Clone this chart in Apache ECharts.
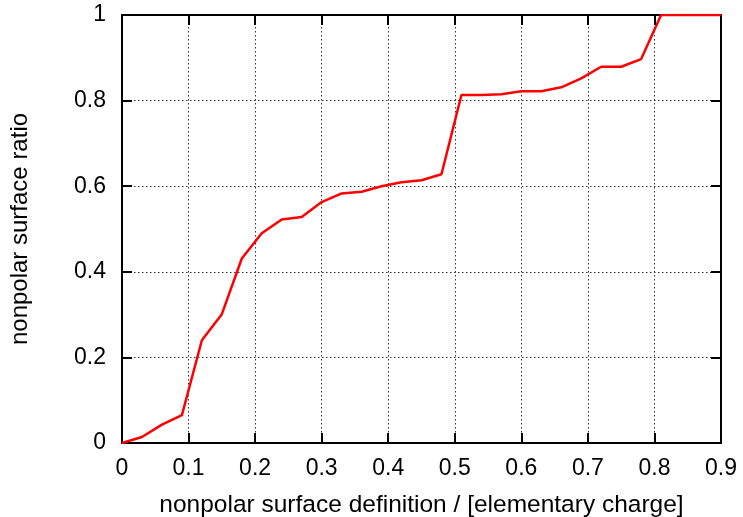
<!DOCTYPE html>
<html>
<head>
<meta charset="utf-8">
<script src="https://cdn.jsdelivr.net/npm/echarts@6/dist/echarts.min.js"></script>
<style>html,body{margin:0;padding:0;background:#fff;}#c{width:743px;height:517px;}</style>
</head>
<body>
<div id="c"></div>
<script>
const xValues = [0, 0.03, 0.06, 0.09, 0.12, 0.15, 0.18, 0.21, 0.24, 0.27, 0.30, 0.33, 0.36, 0.39, 0.42, 0.45, 0.48, 0.51, 0.54, 0.57, 0.60, 0.63, 0.66, 0.69, 0.72, 0.75, 0.78, 0.81, 0.84, 0.87, 0.90];
const ratio = [0, 0.014, 0.043, 0.065, 0.240, 0.301, 0.431, 0.490, 0.522, 0.528, 0.563, 0.583, 0.587, 0.600, 0.609, 0.614, 0.628, 0.813, 0.813, 0.815, 0.822, 0.822, 0.831, 0.852, 0.879, 0.879, 0.897, 1.0, 1.0, 1.0, 1.0];
const xTickLabels = ['0', '0.1', '0.2', '0.3', '0.4', '0.5', '0.6', '0.7', '0.8', '0.9'];
const yTickLabels = ['0', '0.2', '0.4', '0.6', '0.8', '1'];
const xTitle = 'nonpolar surface definition / [elementary charge]';
const yTitle = 'nonpolar surface ratio';

const font = 'Liberation Sans, Arial, sans-serif';
const chart = echarts.init(document.getElementById('c'), null, {renderer: 'canvas'});
const mkLine = () => ({show: true, onZero: false, lineStyle: {color: '#000', width: 2}});
const mkTick = () => ({show: true, inside: true, length: 10, lineStyle: {color: '#000', width: 2}});
const mkSplit = () => ({show: true, lineStyle: {color: '#333', width: 1, type: [1.5, 2.5]}});
chart.setOption({
  animation: false,
  backgroundColor: '#fff',
  grid: {left: 122, right: 22, top: 15, bottom: 74, containLabel: false, outerBoundsMode: 'none'},
  xAxis: [{
    type: 'value', min: 0, max: 0.9, interval: 0.1, position: 'bottom',
    axisLine: mkLine(), axisTick: mkTick(), splitLine: mkSplit(),
    axisLabel: {color: '#000', fontFamily: font, fontSize: 23, margin: 14,
      formatter: (v) => xTickLabels[Math.round(v * 10)]},
    name: xTitle, nameLocation: 'middle', nameGap: 50,
    nameTextStyle: {color: '#000', fontFamily: font, fontSize: 24.5}
  }, {
    type: 'value', min: 0, max: 0.9, interval: 0.1, position: 'top',
    axisLine: mkLine(), axisTick: mkTick(), splitLine: {show: false}, axisLabel: {show: false}
  }],
  yAxis: [{
    type: 'value', min: 0, max: 1, interval: 0.2, position: 'left',
    axisLine: mkLine(), axisTick: mkTick(), splitLine: mkSplit(),
    axisLabel: {color: '#000', fontFamily: font, fontSize: 23, margin: 16,
      formatter: (v) => yTickLabels[Math.round(v * 5)]},
    name: yTitle, nameLocation: 'middle', nameGap: 90,
    nameTextStyle: {color: '#000', fontFamily: font, fontSize: 24}
  }, {
    type: 'value', min: 0, max: 1, interval: 0.2, position: 'right',
    axisLine: mkLine(), axisTick: mkTick(), splitLine: {show: false}, axisLabel: {show: false}
  }],
  series: [{
    type: 'line', xAxisIndex: 0, yAxisIndex: 0,
    data: xValues.map((x, i) => [x, ratio[i]]),
    showSymbol: false, symbol: 'none',
    lineStyle: {color: '#ff0000', width: 2.5},
    z: 5
  }]
});
</script>
</body>
</html>
